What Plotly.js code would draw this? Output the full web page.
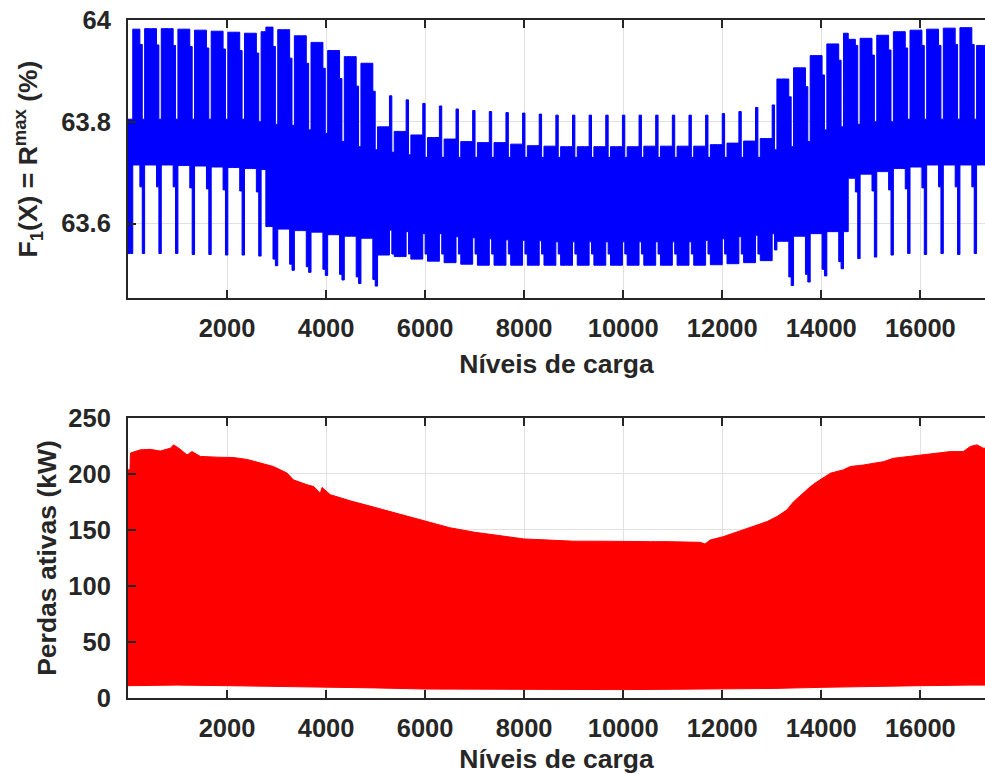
<!DOCTYPE html>
<html>
<head>
<meta charset="utf-8">
<script src="https://cdn.plot.ly/plotly-3.0.1.min.js"></script>
<style>
  html, body { margin: 0; padding: 0; background: #ffffff; }
  #chart { width: 985px; height: 774px; }
</style>
</head>
<body>
<div id="chart"></div>
<script>
// ---------------- DATA ----------------
// Load levels are half-hourly: 48 levels per day, 7 days per week.
const LEVELS_PER_DAY = 48;

// Top chart: F1(X) = R^max (%) — daily max/min bands, per week (weeks 0..51)
// Monday-Friday band
const weekHi = [63.982, 63.983, 63.983, 63.982, 63.980, 63.978, 63.976, 63.974, 63.986, 63.981,
                63.969, 63.956, 63.940, 63.928, 63.915, 63.790, 63.781, 63.774, 63.769, 63.766,
                63.761, 63.759, 63.759, 63.756, 63.753, 63.752, 63.751, 63.751, 63.751, 63.751,
                63.751, 63.752, 63.752, 63.752, 63.752, 63.755, 63.758, 63.762, 63.767, 63.884,
                63.906, 63.930, 63.953, 63.962, 63.964, 63.970, 63.977, 63.980, 63.982, 63.984,
                63.985, 63.950];
const weekLo = [63.715, 63.715, 63.715, 63.714, 63.713, 63.711, 63.710, 63.708, 63.594, 63.589,
                63.586, 63.583, 63.578, 63.575, 63.571, 63.538, 63.535, 63.530, 63.526, 63.523,
                63.520, 63.518, 63.518, 63.518, 63.518, 63.518, 63.518, 63.518, 63.518, 63.518,
                63.518, 63.518, 63.518, 63.518, 63.518, 63.519, 63.521, 63.523, 63.527, 63.565,
                63.575, 63.580, 63.584, 63.689, 63.697, 63.702, 63.708, 63.711, 63.715, 63.715,
                63.715, 63.715];
// Saturday band
const satHi = [63.952, 63.951, 63.950, 63.948, 63.945, 63.943, 63.940, 63.935, 63.948, 63.925,
               63.915, 63.905, 63.885, 63.870, 63.860, 63.851, 63.843, 63.836, 63.831, 63.825,
               63.822, 63.820, 63.818, 63.817, 63.815, 63.813, 63.813, 63.813, 63.813, 63.813,
               63.813, 63.813, 63.813, 63.813, 63.813, 63.816, 63.820, 63.828, 63.833, 63.849,
               63.869, 63.892, 63.921, 63.950, 63.931, 63.941, 63.945, 63.950, 63.950, 63.952,
               63.952, 63.952];
const satLo = [63.672, 63.672, 63.672, 63.670, 63.668, 63.666, 63.664, 63.662, 63.530, 63.520,
               63.515, 63.510, 63.500, 63.495, 63.490, 63.587, 63.584, 63.580, 63.580, 63.574,
               63.572, 63.570, 63.568, 63.567, 63.566, 63.564, 63.564, 63.564, 63.564, 63.564,
               63.564, 63.564, 63.564, 63.564, 63.567, 63.570, 63.574, 63.577, 63.580, 63.495,
               63.500, 63.510, 63.525, 63.662, 63.664, 63.666, 63.668, 63.670, 63.672, 63.672,
               63.672, 63.672];
// Sunday band
const sunHi = [63.805, 63.805, 63.805, 63.805, 63.805, 63.805, 63.805, 63.800, 63.795, 63.793,
               63.784, 63.777, 63.761, 63.751, 63.745, 63.740, 63.735, 63.730, 63.730, 63.730,
               63.730, 63.730, 63.730, 63.730, 63.730, 63.730, 63.730, 63.730, 63.730, 63.730,
               63.730, 63.730, 63.730, 63.730, 63.730, 63.730, 63.730, 63.730, 63.745, 63.751,
               63.761, 63.784, 63.790, 63.795, 63.800, 63.800, 63.805, 63.805, 63.805, 63.805,
               63.805, 63.805];
const sunLo = [63.541, 63.541, 63.541, 63.539, 63.539, 63.538, 63.538, 63.536, 63.517, 63.508,
               63.504, 63.498, 63.489, 63.482, 63.477, 63.540, 63.540, 63.540, 63.540, 63.540,
               63.540, 63.540, 63.540, 63.540, 63.540, 63.540, 63.540, 63.540, 63.540, 63.540,
               63.540, 63.540, 63.540, 63.540, 63.540, 63.540, 63.540, 63.540, 63.548, 63.478,
               63.485, 63.497, 63.511, 63.531, 63.534, 63.538, 63.541, 63.539, 63.541, 63.539,
               63.541, 63.541];
// Special days (day index from the start) with their own band
const specialDay = [0, 1, 56, 57, 301, 302];
const specialLo  = [63.541, 63.541, 63.706, 63.706, 63.584, 63.584];
const specialHi  = [63.805, 63.805, 63.977, 63.977, 63.974, 63.974];

// Bottom chart: Perdas ativas (kW) — upper and lower envelope
const lossX  = [0, 40, 50, 250, 450, 650, 855, 922, 1057, 1192, 1293, 1460, 1798, 2127, 2404, 2672,
                2935, 3212, 3339, 3615, 3749, 3884, 3918, 4086, 4490, 5000, 5500, 6000, 6500, 7000,
                7500, 8000, 8500, 9000, 9500, 10000, 10548, 10885, 11214, 11552, 11653, 11754, 12017,
                12219, 12421, 12702, 12904, 13106, 13308, 13435, 13580, 13782, 13914, 14184, 14446,
                14588, 14850, 15254, 15456, 15799, 16062, 16337, 16606, 16869, 17010, 17145, 17273, 17480];
const lossHi = [203.7, 203.7, 218.7, 221.6, 222.0, 220.5, 223.0, 226.0, 222.0, 217.0, 220.0, 215.7, 215.0,
                214.7, 213.0, 210.0, 206.7, 200.8, 194.8, 190.4, 188.8, 182.9, 188.0, 181.5, 176.0, 170.0,
                164.0, 158.0, 152.0, 148.0, 145.0, 142.0, 141.0, 140.0, 140.0, 139.5, 139.6, 139.6, 139.6,
                139.0, 137.5, 141.0, 144.0, 147.0, 150.0, 154.5, 157.5, 162.0, 168.0, 175.0, 181.0, 188.8,
                193.0, 200.7, 203.7, 206.7, 208.0, 211.0, 214.0, 216.0, 217.0, 218.6, 220.0, 220.0, 224.6,
                226.0, 223.0, 223.0];
const lossLoX = [0, 1000, 2000, 3000, 4000, 5000, 6000, 7000, 8000, 9000, 10000, 11000, 12000, 13000,
                 14000, 15000, 16000, 17000, 17480];
const lossLo  = [11.0, 11.5, 11.0, 10.5, 10.0, 9.0, 8.0, 7.8, 7.5, 7.5, 7.5, 7.8, 8.0, 8.5,
                 9.5, 10.5, 11.0, 11.5, 11.5];

// Axis ticks
const xTickVals = [2000, 4000, 6000, 8000, 10000, 12000, 14000, 16000];
const xTickText = ['2000', '4000', '6000', '8000', '10000', '12000', '14000', '16000'];
const y1TickVals = [63.6, 63.8, 64];
const y1TickText = ['63.6', '63.8', '64'];
const y2TickVals = [0, 50, 100, 150, 200, 250];
const y2TickText = ['0', '50', '100', '150', '200', '250'];

// ---------------- BUILD DAILY STEP BANDS ----------------
const dayX = [], dayLo = [], dayHi = [];
for (let k = 0; k < weekHi.length; k++) {
  for (let d = 0; d < 7; d++) {
    const idx = k * 7 + d;
    let lo, hi;
    if (d < 5) { lo = weekLo[k]; hi = weekHi[k]; }
    else if (d === 5) { lo = satLo[k]; hi = satHi[k]; }
    else { lo = sunLo[k]; hi = sunHi[k]; }
    const s = specialDay.indexOf(idx);
    if (s >= 0) { lo = specialLo[s]; hi = specialHi[s]; }
    dayX.push(idx * LEVELS_PER_DAY);
    dayLo.push(lo);
    dayHi.push(hi);
  }
}
dayX.push(weekHi.length * 7 * LEVELS_PER_DAY);
dayLo.push(dayLo[dayLo.length - 1]);
dayHi.push(dayHi[dayHi.length - 1]);

// ---------------- PLOT ----------------
const BLUE = '#0000ff', RED = '#ff0000', INK = '#262626', GRID = '#e1e1e1';
const FAM = 'Liberation Sans, Arial, Helvetica, sans-serif';

const traces = [
  { x: dayX, y: dayLo, xaxis: 'x', yaxis: 'y', mode: 'lines', line: { shape: 'hv', color: BLUE, width: 1 },
    showlegend: false, hoverinfo: 'skip' },
  { x: dayX, y: dayHi, xaxis: 'x', yaxis: 'y', mode: 'lines', line: { shape: 'hv', color: BLUE, width: 1 },
    fill: 'tonexty', fillcolor: BLUE, showlegend: false, hoverinfo: 'skip' },
  { x: lossLoX, y: lossLo, xaxis: 'x2', yaxis: 'y2', mode: 'lines', line: { color: RED, width: 1 },
    showlegend: false, hoverinfo: 'skip' },
  { x: lossX, y: lossHi, xaxis: 'x2', yaxis: 'y2', mode: 'lines', line: { color: RED, width: 1 },
    fill: 'tonexty', fillcolor: RED, showlegend: false, hoverinfo: 'skip' }
];

const tickFont = { family: FAM, size: 25.5, color: INK, weight: 'bold' };
const titleFont = { family: FAM, size: 26.5, color: INK, weight: 'bold' };

function xAxis(anchor) {
  return {
    anchor: anchor, domain: [0, 1], range: [0, 17306],
    tickmode: 'array', tickvals: xTickVals, ticktext: xTickText,
    ticks: 'inside', ticklen: 8, tickwidth: 2, tickcolor: INK,
    showline: true, linewidth: 2, linecolor: INK, mirror: 'ticks',
    showgrid: true, gridcolor: GRID, gridwidth: 1, zeroline: false,
    tickfont: tickFont, ticklabelstandoff: 6,
    title: { text: 'Níveis de carga', font: titleFont, standoff: 14 }
  };
}
function yAxis(anchor, domain, range, vals, text, title, standoff) {
  return {
    anchor: anchor, domain: domain, range: range,
    tickmode: 'array', tickvals: vals, ticktext: text,
    ticks: 'inside', ticklen: 8, tickwidth: 2, tickcolor: INK,
    showline: true, linewidth: 2, linecolor: INK, mirror: false,
    showgrid: true, gridcolor: GRID, gridwidth: 1, zeroline: false,
    tickfont: tickFont, ticklabelstandoff: 10,
    title: { text: title, font: titleFont, standoff: standoff }
  };
}

const layout = {
  width: 985, height: 774,
  margin: { l: 128, r: 0, t: 20, b: 76, pad: 0 },
  paper_bgcolor: '#ffffff', plot_bgcolor: '#ffffff',
  font: { family: FAM, color: INK },
  showlegend: false,
  xaxis: xAxis('y'),
  yaxis: yAxis('x', [0.5900, 1], [63.4536, 64], y1TickVals, y1TickText,
               'F<sub>1</sub>(X) = R<sup>max</sup> (%)', 16),
  xaxis2: xAxis('y2'),
  yaxis2: yAxis('x2', [0, 0.4130], [0, 250], y2TickVals, y2TickText, 'Perdas ativas (kW)', 4)
};

Plotly.newPlot('chart', traces, layout, { staticPlot: true, displayModeBar: false });
</script>
</body>
</html>
